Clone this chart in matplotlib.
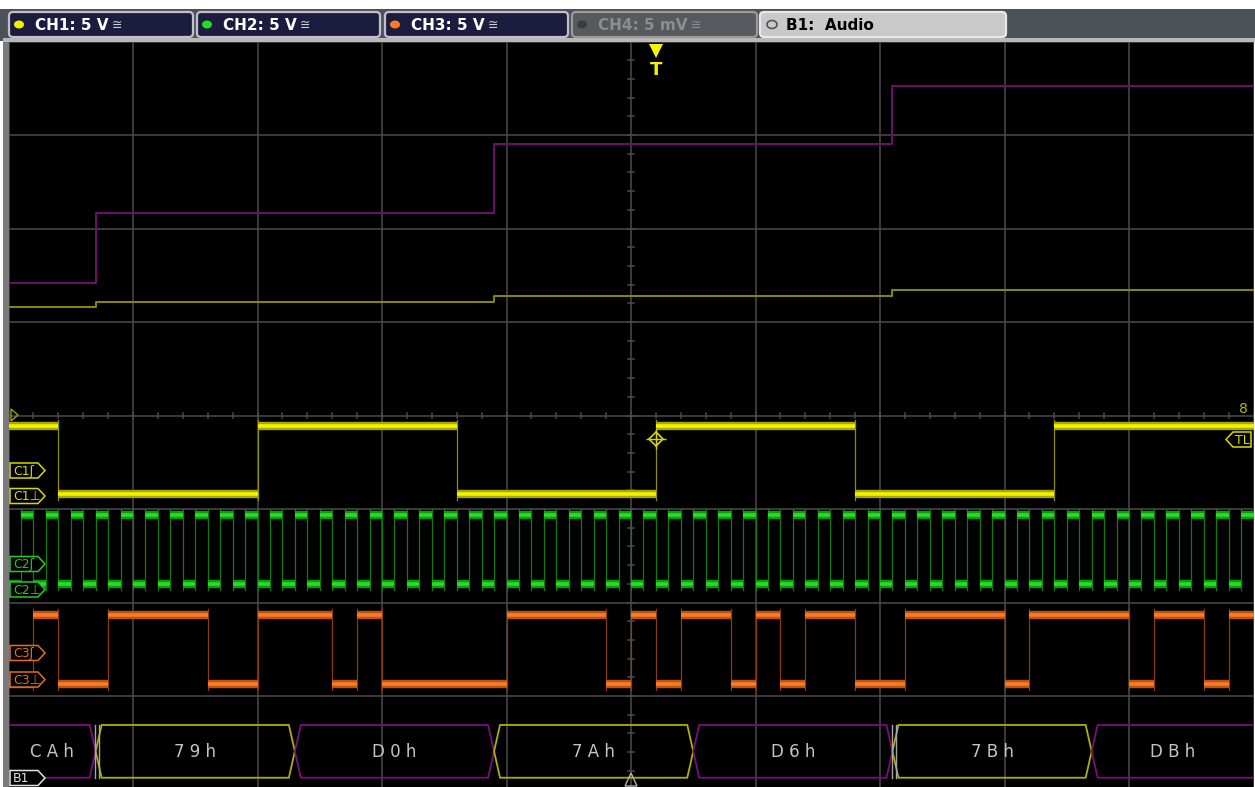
import numpy as np
import matplotlib
matplotlib.use("Agg")
import matplotlib.pyplot as plt
from matplotlib.patches import FancyBboxPatch, Polygon, Ellipse, Rectangle

W, H = 1255, 787

# ---------------- data (time in bit-clock periods, level in divisions) ----------------
n_bits = 50
# CH1 word-select, state of each bit period
ws_bits = [1, 1] + [0] * 8 + [1] * 8 + [0] * 8 + [1] * 8 + [0] * 8 + [1] * 8
# CH3 serial data, state of each bit period
data_bits = [0, 1, 0, 0, 1, 1, 1, 1, 0, 0,
             1, 1, 1, 0, 1, 0, 0, 0, 0, 0,
             1, 1, 1, 1, 0, 1, 0, 1, 1, 0,
             1, 0, 1, 1, 0, 0, 1, 1, 1, 1,
             0, 1, 1, 1, 1, 0, 1, 1, 0, 1]
# CH2 bit clock: low then high within each bit period
clk_phase = [0, 1]

ch1_levels = [3.16, 3.888]   # low, high (div)
ch2_levels = [2.198, 2.936]
ch3_levels = [1.128, 1.866]

# decoded bus
bus_labels = ["C A h", "7 9 h", "D 0 h", "7 A h", "D 6 h", "7 B h", "D B h"]
bus_bounds = [-4.5, 3.5, 11.5, 19.5, 27.5, 35.5, 43.5, 51.5]
bus_is_right = [False, True, False, True, False, True, False]
frame_marks = [3.5, 35.5]

# audio value tracks (steps)
step_times = [0, 3.5, 19.5, 35.5, 50]
left_track = [5.417, 6.166, 6.904, 7.524]
right_track = [5.160, 5.214, 5.278, 5.345]

trigger_t = 26
trigger_level = 3.754

# ---------------- figure ----------------
fig = plt.figure(figsize=(W / 100, H / 100), dpi=100, facecolor="white")

bg = fig.add_axes([0, 0, 1, 1], zorder=0)
bg.set_xlim(0, W); bg.set_ylim(H, 0); bg.axis("off")
bg.add_patch(Rectangle((0, 9), W, 32, color="#4d5258", lw=0))
bg.add_patch(Rectangle((3, 38), 6, H, color="#7a7a7a", lw=0))
bg.add_patch(Rectangle((3, 38), W, 3.5, color="#b8b8b8", lw=0))

ax = fig.add_axes([8.5 / W, (H - 789.5) / H, 1245 / W, 748 / H], zorder=1)
ax.set_facecolor("black")
ax.set_xlim(0, n_bits)
ax.set_ylim(0, 8)
ax.set_xticks(np.arange(0, n_bits + 1, 5))
ax.set_yticks(np.arange(0, 9, 1))
ax.grid(True, color="#4b4b4b", lw=1.1)
ax.tick_params(length=0, labelbottom=False, labelleft=False)
for s in ax.spines.values():
    s.set_visible(False)
ax.set_axisbelow(True)

# center graticule ticks
for yy in np.arange(0, 8.01, 0.2):
    ax.plot([24.88, 25.12], [yy, yy], color="#4b4b4b", lw=1.1, zorder=1)
for xx in np.arange(0, n_bits + 0.01, 1):
    ax.plot([xx, xx], [3.97, 4.03], color="#4b4b4b", lw=1.1, zorder=1)

# audio step tracks
ax.plot(step_times, left_track + [left_track[-1]], drawstyle="steps-post",
        color="#6e0f6e", lw=1.4, zorder=2)
ax.plot(step_times, right_track + [right_track[-1]], drawstyle="steps-post",
        color="#8a8a00", lw=1.4, zorder=2)


def runs_from_states(states, width):
    out = []
    start = 0.0
    for i in range(1, len(states) + 1):
        if i == len(states) or states[i] != states[i - 1]:
            out.append((start, i * width, states[i - 1]))
            start = i * width
    return out


def draw_digital(runs, levels, band, core, edge):
    lo, hi = levels
    for k, (a, b, s) in enumerate(runs):
        y = hi if s else lo
        ax.plot([a, b], [y, y], color=band, lw=6.0, solid_capstyle="butt", zorder=3)
        ax.plot([a, b], [y, y], color=core, lw=2.6, solid_capstyle="butt", zorder=4)
        if k > 0:
            ax.plot([a, a], [lo - 0.06, hi + 0.06], color=edge, lw=0.9, zorder=2.5)


ch1_runs = runs_from_states(ws_bits, 1.0)
clk_states = [clk_phase[j % 2] for j in range(2 * n_bits)]
ch2_runs = runs_from_states(clk_states, 0.5)
ch3_runs = runs_from_states(data_bits, 1.0)

draw_digital(ch1_runs, ch1_levels, "#a9a900", "#f2f200", "#8f8f00")
draw_digital(ch2_runs, ch2_levels, "#0f9a0f", "#22e022", "#137a13")
draw_digital(ch3_runs, ch3_levels, "#b95412", "#ff7a22", "#8a3c0c")

# trigger point
ax.plot([trigger_t], [trigger_level], marker="D", ms=7, mfc="none", mec="#d8d800",
        mew=1.2, zorder=6)
ax.plot([trigger_t], [trigger_level], marker="+", ms=14, mec="#d8d800", mew=1.0, zorder=6)

# bus decode
b_top, b_bot = 0.690, 0.126
b_mid = (b_top + b_bot) / 2
d = 0.24
for i, lab in enumerate(bus_labels):
    s, e = bus_bounds[i], bus_bounds[i + 1]
    col = "#b0b000" if bus_is_right[i] else "#7a0f7a"
    poly = Polygon([(s, b_mid), (s + d, b_top), (e - d, b_top), (e, b_mid),
                    (e - d, b_bot), (s + d, b_bot)], closed=True, fill=False,
                   edgecolor=col, lw=1.3, zorder=3)
    ax.add_patch(poly)
    vis_s, vis_e = max(s, 0), min(e, n_bits)
    ax.text((vis_s + vis_e) / 2, b_mid - 0.01, lab, color="#c4c4c4", fontsize=12,
            ha="center", va="center", zorder=5)
for fm in frame_marks:
    for off in (-0.03, 0.15):
        ax.plot([fm + off, fm + off], [b_bot, b_top], color="#a8a8a8", lw=1.0, zorder=4)

# ---------------- overlay (instrument chrome) ----------------
ov = fig.add_axes([0, 0, 1, 1], zorder=2)
ov.set_xlim(0, W); ov.set_ylim(H, 0); ov.axis("off")
ov.patch.set_alpha(0)

buttons = [
    (9, 193, "#1c1c3e", "#c0c0cc", "#f0f000", "CH1: 5 V", "white", "≅"),
    (197, 380, "#1c1c3e", "#c0c0cc", "#22dd22", "CH2: 5 V", "white", "≅"),
    (385, 568, "#1c1c3e", "#c0c0cc", "#ff7a22", "CH3: 5 V", "white", "≅"),
    (572, 757, "#56595e", "#9a9a9a", "#3c3c3c", "CH4: 5 mV", "#8e8e8e", "≅"),
    (760, 1006, "#c9c9c9", "#e8e8e8", None, "B1:  Audio", "black", ""),
]
for x0, x1, fc, ec, dot, txt, tc, suf in buttons:
    ov.add_patch(FancyBboxPatch((x0, 12), x1 - x0, 25,
                                boxstyle="round,pad=0,rounding_size=4",
                                fc=fc, ec=ec, lw=1.6))
    if dot is not None:
        ov.add_patch(Ellipse((x0 + 10, 24.5), 10, 8, fc=dot, ec="none"))
    else:
        ov.add_patch(Ellipse((x0 + 12, 24.5), 10, 8, fc="none", ec="#555555", lw=1.2))
    t = ov.text(x0 + 26, 25, txt, color=tc, fontsize=11, fontweight="bold",
                ha="left", va="center")
    if suf:
        ov.annotate(suf, xy=(1, 0.5), xycoords=t, xytext=(2, 0),
                    textcoords="offset points", color=tc if tc != "white" else "#d0d0d0",
                    fontsize=9, ha="left", va="center")

# trigger marker
ov.add_patch(Polygon([(649, 44), (663, 44), (656, 58)], closed=True, fc="#f4f400", ec="none"))
ov.text(656, 70, "T", color="#f4f400", fontsize=13, fontweight="bold", ha="center", va="center")

# left channel tags
tags = [
    (470.5, "C1ʃ", "#d8d800"), (496, "C1⊥", "#d8d800"),
    (564, "C2ʃ", "#22cc22"), (589.5, "C2⊥", "#22cc22"),
    (653, "C3ʃ", "#e07020"), (679.5, "C3⊥", "#e07020"),
    (778, "B1", "#e0e0e0"),
]
for yc, txt, col in tags:
    ov.add_patch(Polygon([(10, yc - 7.5), (38, yc - 7.5), (45, yc), (38, yc + 7.5), (10, yc + 7.5)],
                         closed=True, fc="black", ec=col, lw=1.1))
    ov.text(13, yc + 0.5, txt, color=col, fontsize=9, ha="left", va="center")

# ground marker and right labels
ov.add_patch(Polygon([(11, 409), (18, 415), (11, 421)], closed=True, fill=False, ec="#a0a000", lw=1.0))
ov.text(1243.5, 409, "8", color="#b8b800", fontsize=10, ha="center", va="center")
ov.add_patch(Polygon([(1226, 439.5), (1233, 432), (1251, 432), (1251, 447), (1233, 447)],
                     closed=True, fc="black", ec="#d8d800", lw=1.1))
ov.text(1242, 440, "TL", color="#d8d800", fontsize=9, ha="center", va="center")

# bottom time-reference marker
ov.add_patch(Polygon([(625, 786), (637, 786), (631, 773)], closed=True, fill=False,
                     ec="#b0b0b0", lw=1.0))

fig.savefig("out.png", dpi=100, facecolor=fig.get_facecolor())
